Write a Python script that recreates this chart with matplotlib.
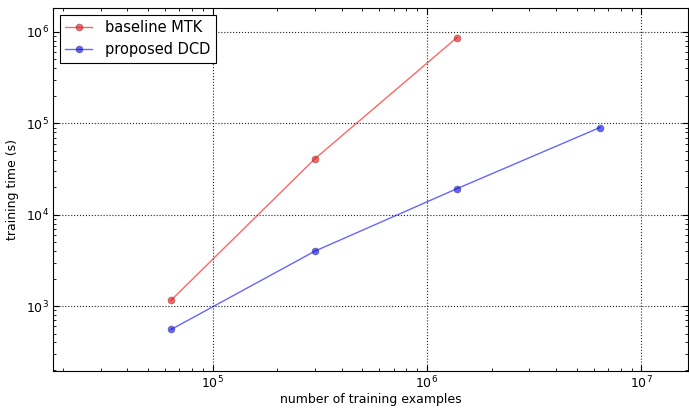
import numpy as np
import matplotlib
matplotlib.use("Agg")
import matplotlib.pyplot as plt

# --- DATA ---
n_examples_mtk = [6.4e4, 3.0e5, 1.38e6]
time_mtk = [1160, 4.1e4, 8.7e5]
n_examples_dcd = [6.4e4, 3.0e5, 1.38e6, 6.4e6]
time_dcd = [555, 4000, 1.93e4, 9.0e4]

fig = plt.figure(figsize=(6.89, 4.08), dpi=100)
ax = fig.add_axes([53 / 689, 1 - 371 / 408, (688 - 53) / 689, (371 - 8) / 408])

ax.plot(n_examples_mtk, time_mtk, '-o', color='red', alpha=0.6, lw=1,
        ms=5, mec='#444444', mew=0.5, label='baseline MTK')
ax.plot(n_examples_dcd, time_dcd, '-o', color='blue', alpha=0.6, lw=1,
        ms=5, mec='#444444', mew=0.5, label='proposed DCD')

ax.set_xscale('log')
ax.set_yscale('log')
ax.set_xlim(1.8e4, 1.65e7)
ax.set_ylim(195, 1.83e6)

ax.grid(True, which='major', color='#222222', linestyle=':', lw=0.8)
ax.tick_params(which='both', direction='in', top=True, right=True, labelsize=9)
ax.tick_params(which='major', length=4, pad=3)
ax.tick_params(which='minor', length=2)

ax.set_xlabel('number of training examples', fontsize=9, labelpad=1)
ax.set_ylabel('training time (s)', fontsize=9, labelpad=5)

leg = ax.legend(loc='upper left', fontsize=10.5, fancybox=False, framealpha=1,
                edgecolor='black', handlelength=1.8, borderaxespad=0.45,
                borderpad=0.4, labelspacing=0.45, handletextpad=0.9)
leg.get_frame().set_linewidth(0.8)

fig.savefig('out.png', dpi=100)
